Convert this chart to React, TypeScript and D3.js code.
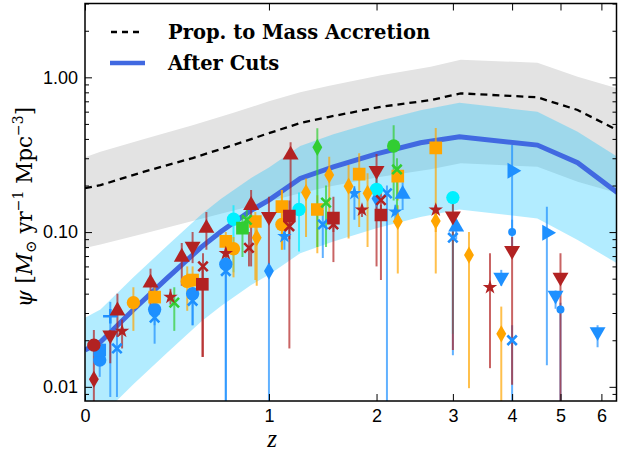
import React, { useRef, useEffect } from "react";
import * as d3 from "d3";

// model curves (redshift grid + psi values)
const cutZ = [0, 0.06, 0.2, 0.36, 0.55, 0.67, 0.87, 1.0, 1.25, 1.55, 2.0, 2.54, 3.1, 4.5, 5.4, 6.43];
const cutMid = [0.0173, 0.0195, 0.0315, 0.05, 0.08, 0.101, 0.138, 0.161, 0.222, 0.264, 0.32, 0.378, 0.413, 0.365, 0.281, 0.18];
const cutHi = [0.028, 0.0316, 0.051, 0.081, 0.13, 0.164, 0.224, 0.261, 0.36, 0.428, 0.518, 0.612, 0.685, 0.599, 0.445, 0.307];
const cutLo = [0.0057, 0.0064, 0.0104, 0.0165, 0.0264, 0.0333, 0.0455, 0.053, 0.073, 0.087, 0.106, 0.125, 0.14, 0.1226, 0.0888, 0.0628];

const accZ = [0, 0.06, 0.25, 0.5, 0.75, 1.0, 1.25, 1.5, 2.05, 2.68, 3.12, 4.5, 5.4, 6.43];
const accMid = [0.192, 0.201, 0.246, 0.301, 0.365, 0.436, 0.506, 0.554, 0.645, 0.713, 0.788, 0.743, 0.615, 0.456];
const accHi = [0.305, 0.33, 0.4, 0.49, 0.59, 0.7, 0.8, 0.88, 1.03, 1.17, 1.3, 1.243, 1.009, 0.849];
const accLo = [0.079, 0.083, 0.098, 0.118, 0.138, 0.158, 0.178, 0.196, 0.228, 0.255, 0.278, 0.264, 0.2115, 0.179];

// observations: [z, psi, psiLow, psiHigh]
const redTriUp = [[0.13, 0.031, 0.021, 0.04], [0.28, 0.047, 0.03, 0.058], [0.44, 0.069, 0.045, 0.085], [0.58, 0.106, 0.077, 0.135], [0.87, 0.149, 0.06, 0.187], [1.17, 0.315, 0.11, 0.38]];
const redTriDown = [[0.1, 0.0216, 0.0142, 0.0233], [0.5, 0.081, 0.063, 0.1], [1.0, 0.126, 0.06, 0.169], [2.0, 0.25, 0.06, 0.32], [3.0, 0.127, 0.0173, 0.16], [4.0, 0.076, 0.0103, 0.093], [5.0, 0.051, 0.005, 0.073]];
const redCircle = [[0.034, 0.0186, 0.0149, 0.0233]];
const redDiamond = [[0.034, 0.0112, 0.005, 0.0149]];
const redStar = [[0.15, 0.0229, 0.0177, 0.0272], [0.38, 0.038, 0.034, 0.043], [0.7, 0.073, 0.065, 0.081], [1.84, 0.139, 0.125, 0.15], [2.75, 0.139, 0.125, 0.15], [3.6, 0.044, 0.0132, 0.073]];
const redX = [[0.56, 0.06, 0.0156, 0.073], [0.855, 0.079, 0.06, 0.1], [1.16, 0.109, 0.09, 0.12], [1.55, 0.112, 0.1, 0.12], [2.05, 0.161, 0.14, 0.18]];
const redSquare = [[0.556, 0.046, 0.0156, 0.06], [1.16, 0.127, 0.0177, 0.16], [1.55, 0.123, 0.064, 0.169], [2.05, 0.129, 0.049, 0.15]];

const orangeCircle = [[0.2, 0.035, 0.023, 0.044], [0.47, 0.048, 0.031, 0.06], [0.75, 0.078, 0.051, 0.093], [1.1, 0.112, 0.077, 0.187]];
const orangeSquare = [[0.3, 0.038, 0.03, 0.046], [0.5, 0.049, 0.036, 0.06], [0.7, 0.087, 0.06, 0.1], [0.9, 0.117, 0.049, 0.135], [1.1, 0.146, 0.077, 0.187], [1.4, 0.14, 0.073, 0.173], [1.81, 0.237, 0.108, 0.323], [2.25, 0.23, 0.16, 0.26], [2.75, 0.35, 0.054, 0.47]];
const orangeDiamond = [[0.91, 0.092, 0.045, 0.12], [1.3, 0.18, 0.093, 0.222], [1.51, 0.234, 0.135, 0.307], [1.7, 0.198, 0.091, 0.271], [1.9, 0.178, 0.08, 0.24], [2.25, 0.117, 0.054, 0.149], [2.75, 0.118, 0.1, 0.135], [3.25, 0.071, 0.0098, 0.1], [3.8, 0.022, 0.005, 0.033]];

const cyanCircle = [[0.75, 0.121, 0.055, 0.149], [1.24, 0.14, 0.075, 0.18], [2.0, 0.189, 0.15, 0.23], [3.0, 0.167, 0.022, 0.18]];

const greenDiamond = [[1.4, 0.353, 0.08, 0.468]];
const greenCircle = [[2.2, 0.36, 0.16, 0.49]];
const greenSquare = [[0.81, 0.106, 0.069, 0.126]];
const greenX = [[0.4, 0.035, 0.023, 0.044], [0.84, 0.12, 0.1, 0.14], [1.48, 0.155, 0.08, 0.2], [2.24, 0.254, 0.12, 0.3]];

const blueCircle = [[0.057, 0.0149, 0.0116, 0.018], [0.3, 0.0316, 0.025, 0.036], [0.5, 0.04, 0.025, 0.042], [0.7, 0.062, 0.005, 0.07]];
const blueDot = [[4.0, 0.1, 0.08, 0.12], [5.0, 0.0316, 0.005, 0.035]];
const blueSquare = [[0.057, 0.0173, 0.0149, 0.019]];
const blueX = [[0.128, 0.0177, 0.0086, 0.0245], [0.3, 0.028, 0.019, 0.032], [0.5, 0.036, 0.025, 0.04], [0.7, 0.056, 0.005, 0.06], [1.45, 0.112, 0.068, 0.139], [2.12, 0.178, 0.005, 0.2], [3.0, 0.092, 0.016, 0.1], [4.0, 0.02, 0.005, 0.025]];
const bluePlus = [[0.1, 0.0286, 0.0086, 0.0354]];
const blueStar = [[1.12, 0.094, 0.077, 0.1], [1.76, 0.178, 0.12, 0.198], [2.22, 0.135, 0.12, 0.15]];
const blueDiamond = [[1.0, 0.056, 0.005, 0.063], [2.0, 0.165, 0.14, 0.19]];
const blueTriUp = [[2.31, 0.176, 0.139, 0.21], [3.05, 0.108, 0.09, 0.12]];
const blueTriDown = [[3.8, 0.051, 0.045, 0.057], [4.89, 0.039, 0.032, 0.042], [5.9, 0.0227, 0.018, 0.025]];
const blueTriRight = [[4.0, 0.249, 0.1, 0.365], [4.7, 0.099, 0.0138, 0.146]];

const xTicks = [0, 1, 2, 3, 4, 5, 6];
const yMajor = [0.01, 0.1, 1];
const yMinor = [0.009, 0.02, 0.03, 0.04, 0.05, 0.06, 0.07, 0.08, 0.09, 0.2, 0.3, 0.4, 0.5, 0.6, 0.7, 0.8, 0.9, 2, 3];

const RED = "#b22222", ORANGE = "#ffa500", BLUE = "#1e90ff", CYAN = "#00f0ff", GREEN = "#32cd32";

const series = [
  { data: blueCircle, color: BLUE, shape: "circle" },
  { data: blueSquare, color: BLUE, shape: "square" },
  { data: blueX, color: BLUE, shape: "x" },
  { data: bluePlus, color: BLUE, shape: "plus" },
  { data: blueStar, color: BLUE, shape: "star" },
  { data: blueDiamond, color: BLUE, shape: "diamond" },
  { data: blueTriUp, color: BLUE, shape: "up" },
  { data: blueTriDown, color: BLUE, shape: "down" },
  { data: blueTriRight, color: BLUE, shape: "right" },
  { data: blueDot, color: BLUE, shape: "dot" },
  { data: cyanCircle, color: CYAN, shape: "circle" },
  { data: orangeCircle, color: ORANGE, shape: "circle" },
  { data: orangeSquare, color: ORANGE, shape: "square" },
  { data: orangeDiamond, color: ORANGE, shape: "diamond" },
  { data: greenDiamond, color: GREEN, shape: "diamond" },
  { data: greenCircle, color: GREEN, shape: "circle" },
  { data: greenSquare, color: GREEN, shape: "square" },
  { data: greenX, color: GREEN, shape: "x" },
  { data: redStar, color: RED, shape: "star" },
  { data: redX, color: RED, shape: "x" },
  { data: redSquare, color: RED, shape: "square" },
  { data: redCircle, color: RED, shape: "circle" },
  { data: redDiamond, color: RED, shape: "diamond" },
  { data: redTriUp, color: RED, shape: "up" },
  { data: redTriDown, color: RED, shape: "down" },
];

const W = 618, H = 454;
const L = 85, R = 616.5, T = 3.5, B = 401;

const x = d3.scaleLog().domain([1, 7.41]).range([L, R]);
const y = d3.scaleLog().domain([0.0081, 3.0]).range([B, T]);
const xz = (z: number) => x(1 + z);

const symPath = (shape: string) => {
  switch (shape) {
    case "circle": return d3.symbol(d3.symbolCircle, 140)();
    case "dot": return d3.symbol(d3.symbolCircle, 50)();
    case "square": return d3.symbol(d3.symbolSquare, 160)();
    case "diamond": return d3.symbol(d3.symbolDiamond, 85)();
    case "star": return d3.symbol(d3.symbolStar, 65)();
    case "x": return d3.symbol(d3.symbolX, 60)();
    case "plus": return d3.symbol(d3.symbolPlus, 70)();
    default: return d3.symbol(d3.symbolTriangle, 110)();
  }
};
const rot = (shape: string) => (shape === "down" ? 180 : shape === "right" ? 90 : 0);

const band = (zs: number[], lo: number[], hi: number[]) =>
  d3.area<number>().x(i => xz(zs[i])).y0(i => y(lo[i])).y1(i => y(hi[i]))(zs.map((_, i) => i));
const line = (zs: number[], v: number[]) =>
  d3.line<number>().x(i => xz(zs[i])).y(i => y(v[i]))(zs.map((_, i) => i));

const serif = "DejaVu Serif, serif";

const App = () => {
  const bottomRef = useRef<SVGGElement>(null), topRef = useRef<SVGGElement>(null),
    leftRef = useRef<SVGGElement>(null), leftMinRef = useRef<SVGGElement>(null),
    rightRef = useRef<SVGGElement>(null), rightMinRef = useRef<SVGGElement>(null);

  useEffect(() => {
    const xv = xTicks.map(d => d + 1);
    d3.select(bottomRef.current).call(d3.axisBottom(x).tickValues(xv).tickFormat(d => String(+d - 1)).tickSizeInner(-7).tickSizeOuter(0).tickPadding(8) as any);
    d3.select(topRef.current).call(d3.axisTop(x).tickValues(xv).tickFormat(() => "").tickSizeInner(-7).tickSizeOuter(0) as any);
    d3.select(leftRef.current).call(d3.axisLeft(y).tickValues(yMajor).tickFormat(d3.format(".2f") as any).tickSizeInner(-7).tickSizeOuter(0).tickPadding(7) as any);
    d3.select(leftMinRef.current).call(d3.axisLeft(y).tickValues(yMinor).tickFormat(() => "").tickSizeInner(-4).tickSizeOuter(0) as any);
    d3.select(rightRef.current).call(d3.axisRight(y).tickValues(yMajor).tickFormat(() => "").tickSizeInner(-7).tickSizeOuter(0) as any);
    d3.select(rightMinRef.current).call(d3.axisRight(y).tickValues(yMinor).tickFormat(() => "").tickSizeInner(-4).tickSizeOuter(0) as any);
    [bottomRef, topRef, leftRef, leftMinRef, rightRef, rightMinRef].forEach(r => {
      const g = d3.select(r.current);
      g.select(".domain").remove();
      g.selectAll("text").attr("font-family", "Liberation Sans, Arial, sans-serif").attr("font-size", 18).attr("fill", "#000");
      g.selectAll("line").attr("stroke", "#000").attr("stroke-width", 1);
    });
  }, []);

  return (
    <svg width={W} height={H} style={{ position: "absolute", left: 0, top: 0, background: "#fff" }}>
      <defs>
        <clipPath id="plot"><rect x={L} y={T} width={R - L} height={B - T} /></clipPath>
      </defs>
      <g clipPath="url(#plot)">
        <path d={band(accZ, accLo, accHi) || ""} fill="#e3e3e3" />
        <path d={band(cutZ, cutLo, cutHi) || ""} fill="#00bfff" fillOpacity={0.3} />
        <path d={line(accZ, accMid) || ""} fill="none" stroke="#000" strokeWidth={2.3} strokeDasharray="7,5" />
        <path d={line(cutZ, cutMid) || ""} fill="none" stroke="#4169e1" strokeWidth={5} />
        {series.map((s, si) => s.data.map((d, i) => (
          <line key={`e${si}-${i}`} x1={xz(d[0])} x2={xz(d[0])} y1={y(d[2])} y2={y(d[3])}
            stroke={s.color} strokeWidth={2} strokeOpacity={0.7} />
        )))}
        {series.map((s, si) => s.data.map((d, i) => {
          const stroked = s.shape === "x" || s.shape === "plus";
          return (
            <path key={`m${si}-${i}`} d={symPath(s.shape) || ""}
              transform={`translate(${xz(d[0])},${y(d[1])}) rotate(${rot(s.shape)})`}
              fill={stroked ? "none" : s.color} stroke={stroked ? s.color : "none"} strokeWidth={stroked ? 2.6 : 0} />
          );
        }))}
      </g>
      <g ref={bottomRef} transform={`translate(0,${B})`} />
      <g ref={topRef} transform={`translate(0,${T})`} />
      <g ref={leftRef} transform={`translate(${L},0)`} />
      <g ref={leftMinRef} transform={`translate(${L},0)`} />
      <g ref={rightRef} transform={`translate(${R},0)`} />
      <g ref={rightMinRef} transform={`translate(${R},0)`} />
      <rect x={L} y={T} width={R - L} height={B - T} fill="none" stroke="#000" strokeWidth={1.5} />

      <line x1={111} x2={144} y1={32} y2={32} stroke="#000" strokeWidth={2.3} strokeDasharray="6,5" />
      <text x={168} y={38.5} fontFamily={serif} fontWeight="bold" fontSize={19.5}>Prop. to Mass Accretion</text>
      <line x1={110} x2={145} y1={63} y2={63} stroke="#4169e1" strokeWidth={4.5} />
      <text x={168} y={70} fontFamily={serif} fontWeight="bold" fontSize={19.5}>After Cuts</text>

      <text x={272} y={447} textAnchor="middle" fontFamily="Liberation Serif, serif" fontStyle="italic" fontSize={25}>z</text>
      <text transform="translate(32,207) rotate(-90)" textAnchor="middle" fontFamily={serif} fontSize={21.5}>
        <tspan fontStyle="italic">ψ</tspan>
        <tspan> [</tspan>
        <tspan fontStyle="italic">M</tspan>
        <tspan fontSize={15} dy={4}>⊙</tspan>
        <tspan dy={-4}> yr</tspan>
        <tspan fontSize={14} dy={-9}>−1</tspan>
        <tspan dy={9}> Mpc</tspan>
        <tspan fontSize={14} dy={-9}>−3</tspan>
        <tspan dy={9}>]</tspan>
      </text>
    </svg>
  );
};

export default App;
